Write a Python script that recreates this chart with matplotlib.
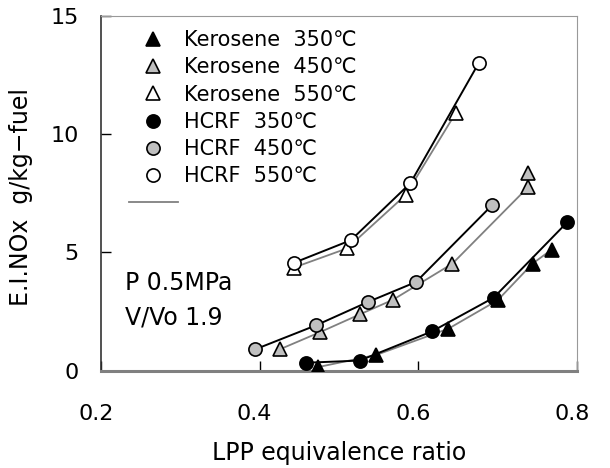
import matplotlib
matplotlib.use('Agg')
import matplotlib.pyplot as plt
import matplotlib.transforms as mtransforms
from matplotlib.lines import Line2D

plt.rcParams['font.family'] = ['DejaVu Sans', 'Noto Sans CJK JP']

# Kerosene series (triangles)
ker350_x = [0.473, 0.547, 0.638, 0.700, 0.744, 0.768]
ker350_y = [0.14, 0.66, 1.77, 2.97, 4.52, 5.11]
ker450_x = [0.425, 0.476, 0.526, 0.568, 0.643, 0.738, 0.738]
ker450_y = [0.89, 1.62, 2.37, 2.99, 4.52, 7.74, 8.33]
ker550_x = [0.443, 0.510, 0.584, 0.647]
ker550_y = [4.35, 5.16, 7.42, 10.88]

# HCRF series (circles)
hcrf350_x = [0.459, 0.526, 0.617, 0.695, 0.788]
hcrf350_y = [0.33, 0.42, 1.65, 3.08, 6.28]
hcrf450_x = [0.394, 0.471, 0.536, 0.597, 0.693]
hcrf450_y = [0.89, 1.91, 2.89, 3.74, 6.99]
hcrf550_x = [0.443, 0.515, 0.590, 0.676]
hcrf550_y = [4.55, 5.51, 7.92, 12.99]

labels = ['Kerosene  350\u2103', 'Kerosene  450\u2103', 'Kerosene  550\u2103',
          'HCRF  350\u2103', 'HCRF  450\u2103', 'HCRF  550\u2103']
xticks = [0.2, 0.4, 0.6, 0.8]
yticks = [0, 5, 10, 15]

BLACK = 'black'
GRAY = '#c0c0c0'
WHITE = 'white'
LGRAY = '#808080'

fig = plt.figure(figsize=(6.1, 4.68), dpi=100)
ax = fig.add_axes([0.1656, 0.2083, 0.7803, 0.7582])

ms = 9.5
# kerosene: gray lines
for xs, ys in [(ker350_x, ker350_y), (ker450_x, ker450_y), (ker550_x, ker550_y)]:
    ax.plot(xs, ys, color=LGRAY, lw=1.3, zorder=2)
# hcrf: black lines
for xs, ys in [(hcrf350_x, hcrf350_y), (hcrf450_x, hcrf450_y), (hcrf550_x, hcrf550_y)]:
    ax.plot(xs, ys, color=BLACK, lw=1.4, zorder=3)

series = [
    (ker350_x, ker350_y, '^', BLACK),
    (ker450_x, ker450_y, '^', GRAY),
    (ker550_x, ker550_y, '^', WHITE),
    (hcrf350_x, hcrf350_y, 'o', BLACK),
    (hcrf450_x, hcrf450_y, 'o', GRAY),
    (hcrf550_x, hcrf550_y, 'o', WHITE),
]
handles = []
for (xs, ys, m, fc), lab in zip(series, labels):
    ax.plot(xs, ys, linestyle='none', marker=m, ms=ms, mfc=fc, mec='black',
            mew=1.2, zorder=4)
    handles.append(Line2D([], [], linestyle='none', marker=m, ms=ms, mfc=fc,
                          mec='black', mew=1.2, label=lab))
handles.append(Line2D([], [], color=LGRAY, lw=1.3, label=' '))

ax.set_xlim(0.2, 0.8)
ax.set_ylim(0, 15)
ax.set_xticks(xticks)
ax.set_xticklabels([f'{v:.1f}' for v in xticks])
ax.set_yticks(yticks)
ax.tick_params(direction='in', length=7, width=1, labelsize=16, colors='black')
ax.tick_params(axis='x', pad=24)
ax.tick_params(axis='y', pad=16)

# excel puts the x tick labels a little left of the ticks
shift = mtransforms.ScaledTranslation(-5 / 100, 0, fig.dpi_scale_trans)
for lbl in ax.get_xticklabels():
    lbl.set_transform(lbl.get_transform() + shift)

ax.spines['left'].set_color('#333333')
ax.spines['left'].set_linewidth(1.2)
ax.spines['bottom'].set_color('#808080')
ax.spines['bottom'].set_linewidth(2.2)
ax.spines['top'].set_color('#999999')
ax.spines['right'].set_color('#999999')

ax.set_xlabel('LPP equivalence ratio', fontsize=17, labelpad=12)
ax.set_ylabel('E.I.NOx  g/kg\u2212fuel', fontsize=17)
ax.yaxis.set_label_coords(-0.143, 0.49)

ax.text(0.2304, 3.69, 'P 0.5MPa', fontsize=17, va='center', ha='left')
ax.text(0.2304, 2.25, 'V/Vo 1.9', fontsize=17, va='center', ha='left')

ax.legend(handles=handles, loc='upper left', bbox_to_anchor=(129 / 610, 1 - 30 / 468),
          bbox_transform=fig.transFigure, frameon=False, fontsize=15,
          handlelength=2.35, handletextpad=0.3, labelspacing=0.35,
          borderpad=0, borderaxespad=0)

fig.savefig('out.png', dpi=100)
